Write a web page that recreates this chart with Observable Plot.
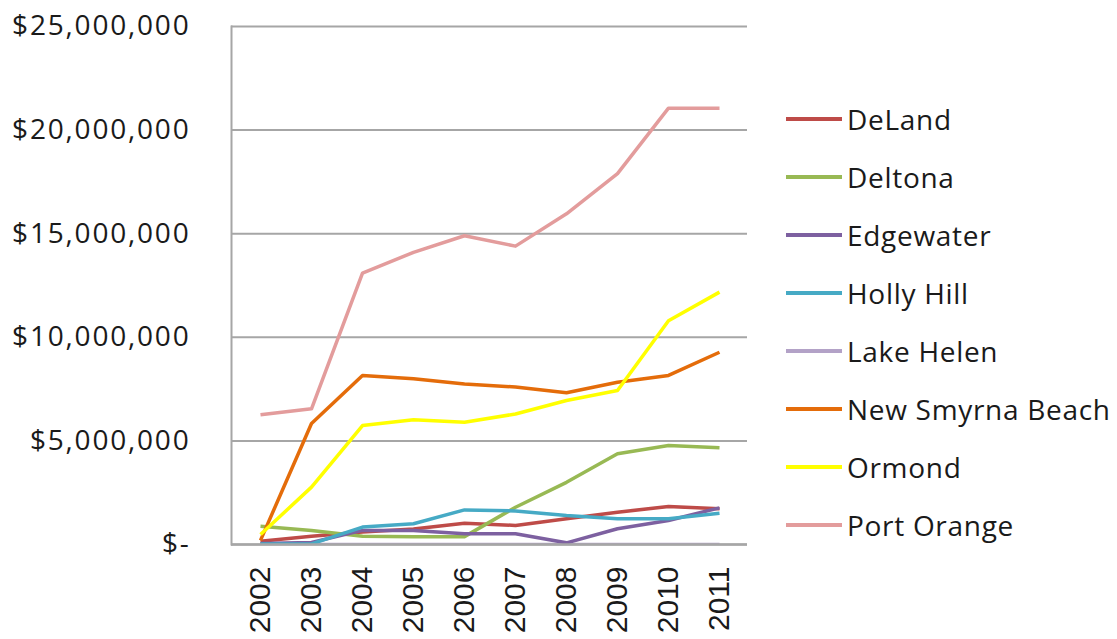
<!DOCTYPE html>
<html>
<head>
<meta charset="utf-8">
<script src="https://cdn.jsdelivr.net/npm/d3@7"></script>
<script src="https://cdn.jsdelivr.net/npm/@observablehq/plot@0.6"></script>
<style>
  html, body { margin: 0; padding: 0; background: #fff; overflow: hidden; }
  #wrap { position: relative; width: 1117px; height: 639px; }
  #legend { position: absolute; left: 786px; top: 90px; font-family: "Open Sans", Lato, sans-serif; font-size: 28px; letter-spacing: 0.7px; color: #1a1a1a; }
  .row { display: flex; align-items: center; height: 58px; }
  .sw { width: 56px; height: 4px; margin-right: 5px; }
  #chart g[aria-label="y-axis tick label"] text { letter-spacing: 1.8px; }
</style>
</head>
<body>
<div id="wrap">
  <div id="chart"></div>
  <div id="legend"></div>
</div>
<script>
const years = ["2002","2003","2004","2005","2006","2007","2008","2009","2010","2011"];
const cities = ["DeLand","Deltona","Edgewater","Holly Hill","Lake Helen","New Smyrna Beach","Ormond","Port Orange"];
const colors = ["#BE4B48","#98B954","#7D60A0","#46AAC5","#B3A2C7","#E46C0A","#FFFF00","#E39C9C"];
const yTicks = [0, 5000000, 10000000, 15000000, 20000000, 25000000];

const deland     = [160000, 400000, 600000, 750000, 1030000, 920000, 1240000, 1560000, 1830000, 1720000];
const deltona    = [880000, 680000, 400000, 380000, 380000, 1800000, 3000000, 4380000, 4780000, 4670000];
const edgewater  = [50000, 100000, 680000, 680000, 520000, 520000, 80000, 760000, 1160000, 1770000];
const hollyHill  = [30000, 30000, 840000, 1000000, 1670000, 1620000, 1400000, 1240000, 1240000, 1510000];
const lakeHelen  = [0, 0, 0, 0, 0, 0, 0, 0, 0, 0];
const newSmyrna  = [200000, 5840000, 8160000, 8000000, 7750000, 7600000, 7320000, 7830000, 8160000, 9280000];
const ormond     = [480000, 2770000, 5740000, 6020000, 5900000, 6300000, 6950000, 7430000, 10800000, 12180000];
const portOrange = [6260000, 6550000, 13100000, 14100000, 14900000, 14400000, 15960000, 17900000, 21060000, 21060000];

const seriesByCity = {
  "DeLand": deland, "Deltona": deltona, "Edgewater": edgewater, "Holly Hill": hollyHill,
  "Lake Helen": lakeHelen, "New Smyrna Beach": newSmyrna, "Ormond": ormond, "Port Orange": portOrange
};
// drawing order: Lake Helen underneath, then the rest in legend order
const drawOrder = ["Lake Helen","DeLand","Deltona","Edgewater","Holly Hill","New Smyrna Beach","Ormond","Port Orange"];
const data = drawOrder.flatMap(city => seriesByCity[city].map((v, i) => ({city, year: years[i], value: v})));

const fmt = d3.format(",");
const chart = Plot.plot({
  width: 1117,
  height: 680,
  marginLeft: 231,
  marginRight: 370,
  marginTop: 26,
  marginBottom: 136,
  style: {background: "#fff"},
  x: {type: "point", domain: years, padding: 0.5},
  y: {domain: [0, 25000000], ticks: yTicks},
  color: {domain: cities, range: colors},
  marks: [
    Plot.gridY(yTicks, {stroke: "#A6A6A6", strokeOpacity: 1, strokeWidth: 2}),
    Plot.frame({anchor: "left", stroke: "#A6A6A6", strokeWidth: 2}),
    Plot.axisY(yTicks, {
      tickSize: 0, tickPadding: 41, fontSize: 28, fontFamily: "'Open Sans', Lato, sans-serif",
      fill: "#1a1a1a", label: null,
      tickFormat: d => d === 0 ? "$-" : "$" + fmt(d)
    }),
    Plot.axisX({
      tickSize: 0, tickRotate: -90, tickPadding: 22, fontSize: 30,
      fontFamily: "'Liberation Sans', Arial, sans-serif", fill: "#1a1a1a", label: null
    }),
    Plot.line(data, {x: "year", y: "value", z: "city", stroke: "city", strokeWidth: 3.5, strokeLinecap: "butt", clip: true}),
    Plot.ruleY([0], {stroke: "#A6A6A6", strokeWidth: 2.6})
  ]
});
document.getElementById("chart").appendChild(chart);

const legend = document.getElementById("legend");
cities.forEach((c, i) => {
  const row = document.createElement("div");
  row.className = "row";
  const sw = document.createElement("div");
  sw.className = "sw";
  sw.style.background = colors[i];
  const t = document.createElement("span");
  t.textContent = c;
  row.appendChild(sw);
  row.appendChild(t);
  legend.appendChild(row);
});
</script>
</body>
</html>
